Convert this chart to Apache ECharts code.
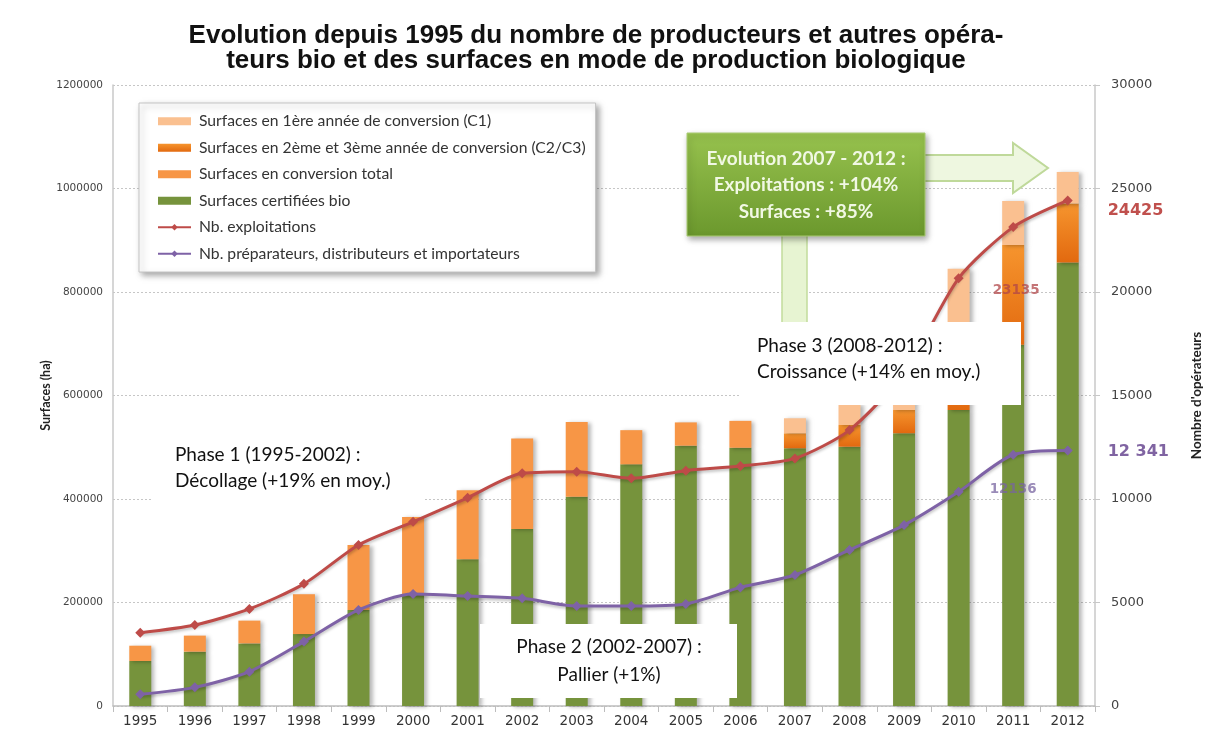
<!DOCTYPE html>
<html><head><meta charset="utf-8">
<script src="https://cdn.jsdelivr.net/npm/echarts@6/dist/echarts.min.js"></script>
<style>html,body{margin:0;padding:0;background:#fff}#c{width:1212px;height:736px}</style>
</head><body><div id="c"></div>
<script>
// ---- Data ----
const years = ['1995','1996','1997','1998','1999','2000','2001','2002','2003','2004','2005','2006','2007','2008','2009','2010','2011','2012'];
const surfCertifiees = [87000,105000,121000,139000,185500,214500,283500,342000,404500,467000,503000,499000,498000,501000,527000,572000,698000,857000];
const surfConvTotal  = [29500,31000,44000,77000,125500,150500,133500,175000,144500,66000,45000,52000,null,null,null,null,null,null];
const surfC2C3       = [null,null,null,null,null,null,null,null,null,null,null,null,29000,42000,45000,110000,193000,114000];
const surfC1         = [null,null,null,null,null,null,null,null,null,null,null,null,29000,41000,105000,163000,85000,61000];
const nbExploitations = [3540,3910,4690,5900,7780,8900,10060,11240,11320,11000,11370,11590,11960,13330,16100,20660,23135,24425];
const nbOperateurs    = [565,900,1660,3110,4640,5410,5310,5200,4830,4830,4930,5730,6330,7540,8740,10350,12136,12341];
const leftTicks  = {min:0, max:1200000, interval:200000};
const rightTicks = {min:0, max:30000, interval:5000};

const names = {
  c1:'Surfaces en 1ère année de conversion (C1)',
  c23:'Surfaces en 2ème et 3ème année de conversion (C2/C3)',
  conv:'Surfaces en conversion total',
  cert:'Surfaces certifiées bio',
  ex:'Nb. exploitations',
  op:'Nb. préparateurs, distributeurs et importateurs'
};

const chart = echarts.init(document.getElementById('c'));
const barShadow = {shadowColor:'rgba(0,0,0,0.28)', shadowBlur:4, shadowOffsetX:3, shadowOffsetY:1};
const RED = '#BE4B48', PURPLE = '#7E62A6';

const exData = nbExploitations.map((v,i)=>{
  if (i === years.length-1) return {value:v, label:{show:true, position:'right', offset:[30,10], color:'#C0504D', fontFamily:'DejaVu Sans', fontWeight:'bold', fontSize:16}};
  if (i === years.length-2) return {value:v, label:{show:true, position:'bottom', offset:[3,46], color:'rgba(176,70,72,0.75)', fontFamily:'DejaVu Sans', fontWeight:'bold', fontSize:13.5}};
  return v;
});
const opData = nbOperateurs.map((v,i)=>{
  if (i === years.length-1) return {value:v, label:{show:true, position:'right', offset:[30,1], formatter:(p)=>String(p.value).replace(/(\d{2})(\d{3})$/,'$1 $2'), color:'#8064A2', fontFamily:'DejaVu Sans', fontWeight:'bold', fontSize:16}};
  if (i === years.length-2) return {value:v, label:{show:true, position:'bottom', offset:[0,18], color:'rgba(120,100,160,0.75)', fontFamily:'DejaVu Sans', fontWeight:'bold', fontSize:13.5}};
  return v;
});

const greenGrad = new echarts.graphic.LinearGradient(0,0,0,1,[{offset:0,color:'#97C24E'},{offset:1,color:'#6B982D'}]);
const c23Grad = new echarts.graphic.LinearGradient(0,0,0,1,[{offset:0,color:'#F6952E'},{offset:1,color:'#E2690F'}]);
const phaseFont = '19px Lato';
const boxFont = 'bold 19px Lato';

chart.setOption({
  animation:false,
  title:{
    text:'Evolution depuis 1995 du nombre de producteurs et autres opéra-\nteurs bio et des surfaces en mode de production biologique',
    left:591, top:18, textAlign:'center',
    textStyle:{fontFamily:'Liberation Sans', fontWeight:'bold', fontSize:26, lineHeight:25, color:'#111'}
  },
  grid:{left:113, right:117, top:85, bottom:30},
  legend:{
    orient:'vertical', left:139, top:103,
    padding:[10,10,10,18],
    itemGap:10, itemWidth:33, itemHeight:8,
    backgroundColor:'#fff', borderColor:'#c4c4c4', borderWidth:1,
    shadowColor:'rgba(0,0,0,0.35)', shadowBlur:6, shadowOffsetX:3, shadowOffsetY:3,
    textStyle:{fontFamily:'Lato', fontSize:15.7, color:'#333', lineHeight:16.5, padding:[0,0,0,3]},
    data:[
      {name:names.c1, icon:'rect'},
      {name:names.c23, icon:'rect'},
      {name:names.conv, icon:'rect'},
      {name:names.cert, icon:'rect'},
      {name:names.ex},
      {name:names.op}
    ]
  },
  xAxis:{
    type:'category', data:years,
    axisLine:{lineStyle:{color:'#bdbdbd', width:1.5}},
    axisTick:{show:true, alignWithLabel:false, length:6, lineStyle:{color:'#bdbdbd'}},
    axisLabel:{fontFamily:'DejaVu Sans', fontSize:13.5, color:'#333', margin:8}
  },
  yAxis:[
    {
      type:'value', min:leftTicks.min, max:leftTicks.max, interval:leftTicks.interval,
      name:'Surfaces (ha)', nameLocation:'middle', nameRotate:90, nameGap:61, nameMoveOverlap:false,
      nameTextStyle:{fontFamily:'Lato', fontWeight:'bold', fontSize:12.5, color:'#222'},
      axisLine:{show:true, lineStyle:{color:'#c8c8c8', width:1.5}},
      axisTick:{show:false},
      axisLabel:{fontFamily:'DejaVu Sans', fontSize:10.5, color:'#444', margin:10, formatter:(v)=>String(v)},
      splitLine:{show:true, lineStyle:{color:'#c6c6c6', type:[2,2], width:1}}
    },
    {
      type:'value', min:rightTicks.min, max:rightTicks.max, interval:rightTicks.interval, position:'right',
      name:"Nombre d'opérateurs", nameLocation:'middle', nameRotate:90, nameGap:95,
      nameTextStyle:{fontFamily:'Lato', fontWeight:'bold', fontSize:13.5, color:'#222'},
      axisLine:{show:true, lineStyle:{color:'#c8c8c8', width:1.5}},
      axisTick:{show:true, length:5, lineStyle:{color:'#c8c8c8'}},
      axisLabel:{fontFamily:'DejaVu Sans', fontSize:13, color:'#444', margin:16, formatter:(v)=>String(v)},
      splitLine:{show:false}
    }
  ],
  series:[
    {name:names.cert, type:'bar', stack:'s', barWidth:22, data:surfCertifiees, itemStyle:Object.assign({color:'#76933C'}, barShadow)},
    {name:names.conv, type:'bar', stack:'s', barWidth:22, data:surfConvTotal, itemStyle:Object.assign({color:'#F79646'}, barShadow)},
    {name:names.c23, type:'bar', stack:'s', barWidth:22, data:surfC2C3, itemStyle:Object.assign({color:c23Grad}, barShadow)},
    {name:names.c1, type:'bar', stack:'s', barWidth:22, data:surfC1, itemStyle:Object.assign({color:'#FAC090'}, barShadow)},
    {name:names.ex, type:'line', yAxisIndex:1, data:exData, smooth:0.25, symbol:'diamond', symbolSize:10,
      lineStyle:{color:RED, width:3, shadowColor:'rgba(0,0,0,0.25)', shadowBlur:3, shadowOffsetY:2},
      itemStyle:{color:RED}, z:5},
    {name:names.op, type:'line', yAxisIndex:1, data:opData, smooth:0.25, symbol:'diamond', symbolSize:10,
      lineStyle:{color:PURPLE, width:3, shadowColor:'rgba(0,0,0,0.25)', shadowBlur:3, shadowOffsetY:2},
      itemStyle:{color:PURPLE}, z:5}
  ],
  graphic:[
    {type:'rect', z:50, shape:{x:782, y:234, width:25, height:95}, style:{fill:'#E7F4D2', stroke:'#C2DC9C', lineWidth:1.5}},
    {type:'polygon', z:50, shape:{points:[[915,155],[1013,155],[1013,143],[1048,168],[1013,193],[1013,181],[915,181]]}, style:{fill:'#EEF7E0', stroke:'#BFD99A', lineWidth:2}},
    {type:'rect', z:60, shape:{x:687, y:133, width:238, height:103}, style:{fill:greenGrad, stroke:'#A9CB72', lineWidth:1, shadowBlur:6, shadowColor:'rgba(0,0,0,0.35)', shadowOffsetX:2, shadowOffsetY:3}},
    {type:'text', z:61, x:806, y:159, style:{text:'Evolution 2007 - 2012 :', align:'center', verticalAlign:'middle', fill:'#F1F8E4', font:boxFont}},
    {type:'text', z:61, x:806, y:185, style:{text:'Exploitations : +104%', align:'center', verticalAlign:'middle', fill:'#F1F8E4', font:boxFont}},
    {type:'text', z:61, x:806, y:212, style:{text:'Surfaces : +85%', align:'center', verticalAlign:'middle', fill:'#F1F8E4', font:boxFont}},

    {type:'rect', z:70, shape:{x:740, y:322, width:281, height:83}, style:{fill:'#fff'}},
    {type:'text', z:71, x:757, y:346, style:{text:'Phase 3 (2008-2012) :', align:'left', verticalAlign:'middle', fill:'#111', font:phaseFont}},
    {type:'text', z:71, x:757, y:372, style:{text:'Croissance (+14% en moy.)', align:'left', verticalAlign:'middle', fill:'#111', font:phaseFont}},

    {type:'rect', z:70, shape:{x:153, y:428, width:272, height:78}, style:{fill:'#fff'}},
    {type:'text', z:71, x:175, y:455, style:{text:'Phase 1 (1995-2002) :', align:'left', verticalAlign:'middle', fill:'#111', font:phaseFont}},
    {type:'text', z:71, x:175, y:481, style:{text:'Décollage (+19% en moy.)', align:'left', verticalAlign:'middle', fill:'#111', font:phaseFont}},

    {type:'rect', z:70, shape:{x:480, y:624, width:257, height:74}, style:{fill:'#fff'}},
    {type:'text', z:71, x:609, y:647, style:{text:'Phase 2 (2002-2007) :', align:'center', verticalAlign:'middle', fill:'#111', font:phaseFont}},
    {type:'text', z:71, x:609, y:675, style:{text:'Pallier (+1%)', align:'center', verticalAlign:'middle', fill:'#111', font:phaseFont}}
  ]
});
</script>
</body></html>
